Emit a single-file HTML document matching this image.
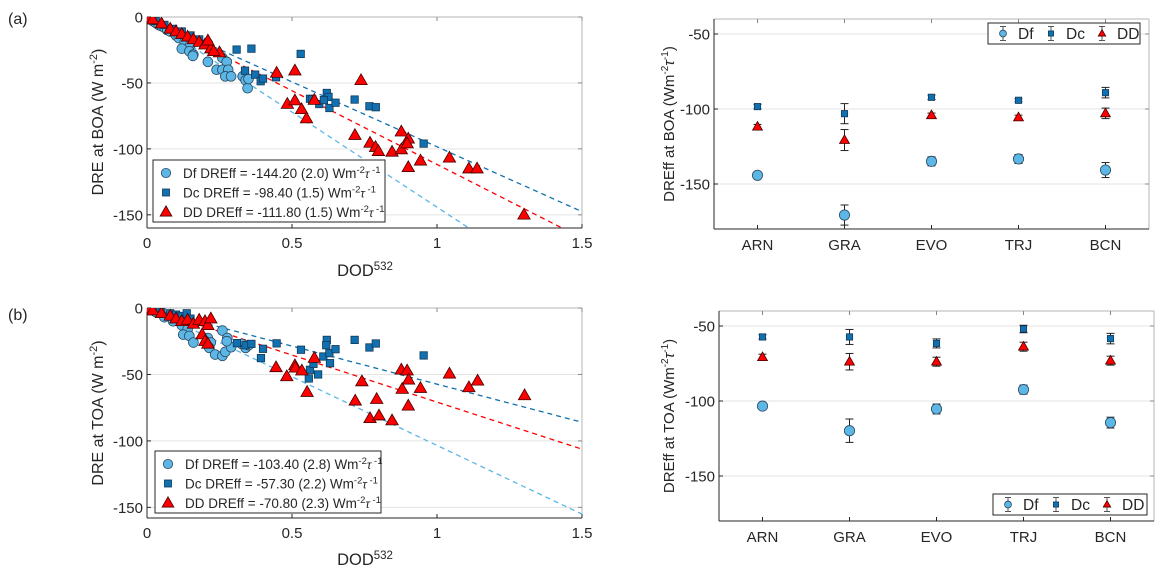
<!DOCTYPE html>
<html><head><meta charset="utf-8"><style>
body{margin:0;background:#fff;width:1166px;height:583px;overflow:hidden;font-family:"Liberation Sans",Arial,sans-serif}
svg{display:block}
</style></head><body>
<svg id="fig" width="1166" height="583" viewBox="0 0 1166 583" xmlns="http://www.w3.org/2000/svg" font-family="Liberation Sans, Arial, sans-serif"></svg>
<script>
// ---------- data ----------
const boaDfX=[0.01,0.02,0.03,0.04,0.05,0.06,0.07,0.08,0.1,0.11,0.13,0.15,0.21,0.12,0.146,0.16,0.158,0.21,0.26,0.275,0.24,0.26,0.28,0.27,0.29,0.33,0.34,0.347,0.35];
const boaDfY=[-1.5,-3,-4.5,-6,-7,-8,-10,-11,-14,-16,-19,-21,-20,-24,-26,-28.5,-29.5,-34,-31,-34,-40,-40,-40,-45,-45,-45,-48,-54,-47];
const boaDcX=[0.01,0.03,0.06,0.09,0.12,0.15,0.18,0.309,0.36,0.53,0.338,0.373,0.392,0.40,0.445,0.562,0.57,0.62,0.626,0.594,0.61,0.629,0.65,0.716,0.767,0.789,0.954];
const boaDcY=[-1,-3,-6,-9,-11,-14,-17,-24.7,-24,-28,-40.7,-43.7,-48.7,-46.7,-45.7,-62,-62.5,-57.6,-60.6,-66,-63,-69,-65,-62.6,-67.7,-68.4,-96];
const boaDDX=[0.01,0.02,0.05,0.08,0.1,0.12,0.14,0.16,0.18,0.2,0.22,0.25,0.21,0.23,0.447,0.51,0.738,0.484,0.51,0.533,0.55,0.577,0.717,0.769,0.788,0.798,0.845,0.877,0.877,0.901,0.897,0.901,0.943,1.043,1.11,1.138,1.30];
const boaDDY=[-1,-2,-5,-9,-11,-13,-15,-17,-19,-21,-24,-27,-18,-26,-42.4,-40.7,-48,-66,-63.4,-70,-77,-63,-89.6,-95.5,-98.7,-101.8,-102.3,-100.5,-87,-92.4,-96,-114,-109,-106.8,-115,-115,-150];
const toaDfX=[0.01,0.03,0.06,0.09,0.12,0.14,0.125,0.146,0.16,0.21,0.22,0.215,0.235,0.26,0.27,0.29,0.26,0.277,0.275,0.326,0.34,0.35];
const toaDfY=[-1,-3,-7,-10,-13,-16,-20,-21,-26,-22.6,-26,-30,-35,-36,-33,-29.5,-17,-22.6,-25,-27,-30,-28];
const toaDcX=[0.02,0.05,0.08,0.1,0.12,0.137,0.15,0.31,0.34,0.36,0.393,0.40,0.447,0.531,0.562,0.558,0.574,0.59,0.608,0.62,0.618,0.629,0.631,0.65,0.716,0.767,0.789,0.954];
const toaDcY=[-1,-3,-4,-5,-6,-4,-8,-26.4,-28,-27,-37.7,-30.7,-26.6,-31.4,-46.5,-53,-42,-50,-36.5,-24,-28,-34,-41.5,-31,-24,-29.7,-26.7,-35.7];
const toaDDX=[0.01,0.02,0.05,0.08,0.1,0.12,0.14,0.16,0.18,0.2,0.21,0.22,0.19,0.2,0.21,0.445,0.482,0.51,0.512,0.534,0.552,0.577,0.741,0.718,0.769,0.792,0.8,0.845,0.877,0.88,0.897,0.902,0.901,0.943,1.043,1.11,1.14,1.302];
const toaDDY=[-1,-2,-4,-6,-8,-10,-9,-12,-9,-10,-13,-8,-20,-25,-27,-44.7,-51.5,-43.2,-45,-47.2,-63.3,-37.7,-55.3,-69.8,-83,-68.6,-81,-84.7,-46.5,-61,-47.2,-54,-73.6,-60.3,-49.5,-59.8,-54.8,-65.8];
const boaSlopes=[-144.2,-98.4,-111.8];
const toaSlopes=[-103.4,-57.3,-70.8];
const boaLegend=["Df DREff = -144.20 (2.0) Wm","Dc DREff = -98.40 (1.5) Wm","DD DREff = -111.80 (1.5) Wm"];
const toaLegend=["Df DREff = -103.40 (2.8) Wm","Dc DREff = -57.30 (2.2) Wm","DD DREff = -70.80 (2.3) Wm"];
const sites=["ARN","GRA","EVO","TRJ","BCN"];
const boaEffDf=[-144.2,-170.7,-134.9,-133.3,-140.7];
const boaErrDf=[1.5,6.7,3,3,5];
const boaEffDc=[-98.4,-103.1,-92.2,-94.2,-89.1];
const boaErrDc=[1.5,6.7,1.5,1,3.5];
const boaEffDD=[-111.8,-120.7,-104.2,-105.6,-102.9];
const boaErrDD=[1.5,7,1.5,1.5,3.5];
const toaEffDf=[-103.4,-119.8,-105.3,-92.4,-114.4];
const toaErrDf=[2,7.8,3.3,3,3.6];
const toaEffDc=[-57.3,-57.3,-61.6,-52,-58.4];
const toaErrDc=[1.5,5,3,2.5,3.5];
const toaEffDD=[-70.8,-73.8,-73.8,-63.8,-73.1];
const toaErrDD=[2,5.5,3,3,3];
const xTicksL=[0,0.5,1,1.5];
const yTicksL=[0,-50,-100,-150];
const yTicksR=[-50,-100,-150];

// ---------- helpers ----------
const NS="http://www.w3.org/2000/svg";
const svg=document.getElementById('fig');
function mk(tag,attrs,parent){const e=document.createElementNS(NS,tag);for(const k in attrs)e.setAttribute(k,attrs[k]);(parent||svg).appendChild(e);return e;}
const C={Df:"#5cb6e6",Dc:"#1170b0",DD:"#ff0000"};
function marker(g,type,x,y,s){
  let e;
  if(type==="Df") e=mk('circle',{cx:x,cy:y,r:4.9*s,fill:C.Df,stroke:"#2a4a60","stroke-width":0.8},g);
  else if(type==="Dc") e=mk('rect',{x:x-3.7*s,y:y-3.7*s,width:7.4*s,height:7.4*s,fill:C.Dc,stroke:"#123a5a","stroke-width":0.8},g);
  else e=mk('polygon',{points:`${x},${y-6.5*s} ${x+6.2*s},${y+4.3*s} ${x-6.2*s},${y+4.3*s}`,fill:C.DD,stroke:"#400","stroke-width":0.8},g);
  
  
  return e;
}
function text(str,x,y,opts,parent){const t=mk('text',Object.assign({x:x,y:y,fill:"#262626","font-size":15},opts||{}),parent);t.textContent=str;return t;}

function axesFrame(g,x0,x1,y0,y1,sy,yt,name){
  yt.forEach(v=>{const y=sy(v);
    const gl=mk('line',{x1:x0,x2:x1,y1:y,y2:y,stroke:"#e3e3e3","stroke-width":1},g);
    
  });
  mk('line',{x1:x0,x2:x1,y1:y0,y2:y0,stroke:"#b5b5b5","stroke-width":1},g);
  mk('line',{x1:x1,x2:x1,y1:y0,y2:y1,stroke:"#b5b5b5","stroke-width":1},g);
  const xa=mk('line',{x1:x0,x2:x1,y1:y1,y2:y1,stroke:"#262626","stroke-width":1},g);
  
  const ya=mk('line',{x1:x0,x2:x0,y1:y0,y2:y1,stroke:"#262626","stroke-width":1},g);
  
  yt.forEach(v=>{const y=sy(v);
    mk('line',{x1:x0,x2:x0+4,y1:y,y2:y,stroke:"#262626"},g);
    mk('line',{x1:x1,x2:x1-4,y1:y,y2:y,stroke:"#888"},g);
    const t=text(String(v),x0-4,y+5.5,{"text-anchor":"end"},g);
    
  });
}

function scatterPanel(name,x0,x1,y0,y1,ymin,sets,slopes,legend,leg,ylab,ylabY,xlabY){
  const g=mk('g',{});
  const sx=v=>x0+(v-0)/1.5*(x1-x0);
  const sy=v=>y0+(0-v)/(0-ymin)*(y1-y0);
  axesFrame(g,x0,x1,y0,y1,sy,yTicksL,name);
  xTicksL.forEach(v=>{const x=sx(v);
    mk('line',{x1:x,x2:x,y1:y1,y2:y1-4,stroke:"#262626"},g);
    mk('line',{x1:x,x2:x,y1:y0,y2:y0+4,stroke:"#888"},g);
    const t=text(String(v),x,y1+20,{"text-anchor":"middle"},g);
    
  });
  const clip=mk('clipPath',{id:name+'-clip'},g);mk('rect',{x:x0,y:y0,width:x1-x0,height:y1-y0},clip);
  const pg=mk('g',{'clip-path':`url(#${name}-clip)`},g);
  const types=["Df","Dc","DD"];
  types.forEach((t,i)=>{
    let xe=1.5; if(slopes[i]*xe<ymin) xe=ymin/slopes[i];
    const l=mk('line',{x1:sx(0),y1:sy(0),x2:sx(xe),y2:sy(slopes[i]*xe),stroke:C[t],"stroke-width":1.3,"stroke-dasharray":"5,4"},pg);
    
  });
  types.forEach((t,i)=>{const [xs,ys]=sets[i];xs.forEach((xv,k)=>marker(pg,t,sx(xv),sy(ys[k]),1));});
  const lg=mk('g',{},g);
  mk('rect',{x:leg[0],y:leg[1],width:leg[2],height:leg[3],fill:"#fff",stroke:"#262626","stroke-width":1},lg);
  types.forEach((t,i)=>{const y=leg[1]+13+i*19.5;
    marker(lg,t,leg[0]+13,y,0.95);
    const tt=mk('text',{x:leg[0]+30,y:y+5,fill:"#262626","font-size":13.5},lg);
    tt.textContent=legend[i];
    const s1=mk('tspan',{dy:-5,"font-size":9.5},tt);s1.textContent="-2";
    const s2=mk('tspan',{"font-size":12,"font-style":"italic",dy:5},tt);s2.textContent="τ";
    const s3=mk('tspan',{dy:-5,"font-size":9.5},tt);s3.textContent=" -1";
    
  });
  const yl=mk('text',{x:0,y:0,fill:"#262626","font-size":16,"text-anchor":"middle",transform:`translate(103,${ylabY}) rotate(-90)`},g);
  yl.textContent=ylab+" (W m";const ys=mk('tspan',{dy:-6,"font-size":11},yl);ys.textContent="-2";const ye=mk('tspan',{dy:6},yl);ye.textContent=")";
  
  const xl=mk('text',{x:365,y:xlabY,fill:"#262626","font-size":16.5,"text-anchor":"middle"},g);
  xl.textContent="DOD";const xs=mk('tspan',{dy:-6,"font-size":11.5},xl);xs.textContent="532";
  
}

function effPanel(name,x0,x1,y0,y1,sets,leg,ylab,ylabY){
  const g=mk('g',{});
  const sx=i=>x0+(i+1-0.5)/5*(x1-x0);
  const sy=v=>y0+(-40-v)/140*(y1-y0);
  axesFrame(g,x0,x1,y0,y1,sy,yTicksR,name);
  sites.forEach((s,i)=>{const x=sx(i);
    mk('line',{x1:x,x2:x,y1:y1,y2:y1-4,stroke:"#262626"},g);
    mk('line',{x1:x,x2:x,y1:y0,y2:y0+4,stroke:"#888"},g);
    const t=text(s,x,y1+21,{"text-anchor":"middle"},g);
    
  });
  const types=["Df","Dc","DD"];
  types.forEach((t,j)=>{const [vals,errs]=sets[j];
    vals.forEach((v,i)=>{const x=sx(i);const ya=sy(v+errs[i]),yb=sy(v-errs[i]);
      const eg=mk('g',{},g);
      mk('line',{x1:x,x2:x,y1:ya,y2:yb,stroke:"#222","stroke-width":1},eg);
      mk('line',{x1:x-4,x2:x+4,y1:ya,y2:ya,stroke:"#222","stroke-width":1},eg);
      mk('line',{x1:x-4,x2:x+4,y1:yb,y2:yb,stroke:"#222","stroke-width":1},eg);
      marker(eg,t,x,sy(v),t==="Df"?1.05:(t==="Dc"?0.85:0.8));
    });
  });
  const lg=mk('g',{},g);
  mk('rect',{x:leg[0],y:leg[1],width:leg[2],height:leg[3],fill:"#fff",stroke:"#262626"},lg);
  const labs=["Df","Dc","DD"];const offs=[15,63,114];
  labs.forEach((l,i)=>{const x=leg[0]+offs[i],y=leg[1]+leg[3]/2;
    mk('line',{x1:x,x2:x,y1:y-7,y2:y+7,stroke:"#555"},lg);
    mk('line',{x1:x-3,x2:x+3,y1:y-7,y2:y-7,stroke:"#555"},lg);
    mk('line',{x1:x-3,x2:x+3,y1:y+7,y2:y+7,stroke:"#555"},lg);
    marker(lg,l,x,y,l==="DD"?0.6:0.7);
    const t=text(l,x+15,y+5.5,{"font-size":15.5},lg);
    
  });
  const yl=mk('text',{x:0,y:0,fill:"#262626","font-size":15,"text-anchor":"middle",transform:`translate(674,${ylabY}) rotate(-90)`},g);
  yl.textContent="DREff "+ylab+" (Wm";const a=mk('tspan',{dy:-6,"font-size":10},yl);a.textContent="-2";
  const b=mk('tspan',{dy:6,"font-style":"italic"},yl);b.textContent="τ";const c=mk('tspan',{dy:-6,"font-size":10},yl);c.textContent="-1";
  const d=mk('tspan',{dy:6},yl);d.textContent=")";
  
}

scatterPanel('boa-scatter',147,582,17,228,-160,[[boaDfX,boaDfY],[boaDcX,boaDcY],[boaDDX,boaDDY]],boaSlopes,boaLegend,[153,160,232,62],"DRE at BOA",122,276);
scatterPanel('toa-scatter',147,582,308,518,-158,[[toaDfX,toaDfY],[toaDcX,toaDcY],[toaDDX,toaDDY]],toaSlopes,toaLegend,[155,451,226,62],"DRE at TOA",413,565);
effPanel('boa-eff',714,1149,19,229,[[boaEffDf,boaErrDf],[boaEffDc,boaErrDc],[boaEffDD,boaErrDD]],[988,23,152,21],"at BOA",124);
effPanel('toa-eff',719,1154,311,521,[[toaEffDf,toaErrDf],[toaEffDc,toaErrDc],[toaEffDD,toaErrDD]],[993,494,154,21],"at TOA",416);

const la=text("(a)",8,24,{"font-size":16});
const lb=text("(b)",8,320,{"font-size":16});
</script>
</body></html>
